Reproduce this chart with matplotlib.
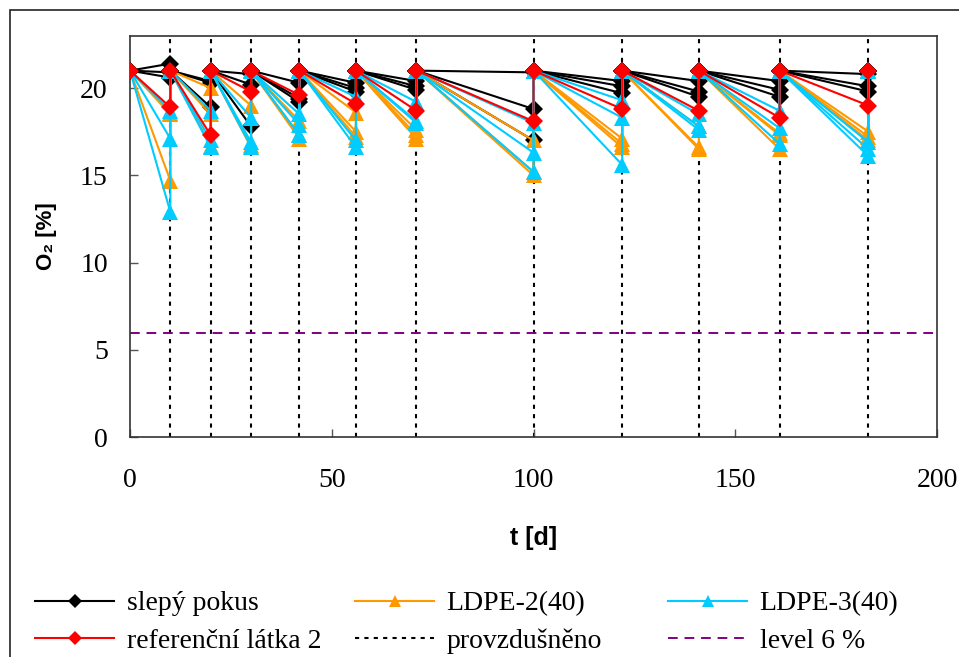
import matplotlib
matplotlib.use("Agg")
import matplotlib.pyplot as plt
from matplotlib.patches import Rectangle

# measurement days (oxygen read, then vessel re-aerated to 21 %)
times = [10, 20, 30, 42, 56, 71, 100, 122, 141, 161, 183]
o2_start = 21.0

blank = [
    [21.4, 20.4, 20.8, 20.3, 20.3, 20.4, 20.9, 20.4, 20.4, 20.4, 20.8],
    [20.6, 20.3, 20.2, 19.4, 20.0, 20.1, 18.8, 20.1, 19.8, 19.9, 20.1],
    [20.9, 18.9, 17.8, 19.2, 19.8, 19.9, 17.0, 19.7, 19.5, 19.5, 19.8],
]
ldpe2 = [
    [18.5, 20.0, 19.0, 18.1, 18.6, 17.6, 17.0, 17.1, 17.8, 17.3, 17.5],
    [14.7, 18.5, 16.75, 17.1, 17.5, 17.1, 15.2, 16.8, 16.5, 16.5, 17.2],
    [18.6, 16.7, 16.6, 17.3, 17.2, 17.3, 15.0, 16.6, 16.6, 17.4, 17.0],
]
ldpe3 = [
    [18.7, 18.7, 18.3, 18.5, 19.5, 19.2, 18.0, 19.3, 18.5, 18.7, 16.9],
    [17.1, 17.0, 16.9, 17.9, 17.0, 18.1, 16.3, 18.3, 17.6, 17.7, 16.5],
    [12.9, 16.6, 16.65, 17.3, 16.6, 18.0, 15.2, 15.6, 17.8, 16.8, 16.1],
]
reference = [
    [18.9, 17.3, 19.8, 19.6, 19.1, 18.7, 18.1, 18.8, 18.7, 18.3, 19.0],
]
level = 6.0

SERIF = ["Liberation Serif", "DejaVu Serif"]
SANS = ["Liberation Sans", "DejaVu Sans"]


def sawtooth(values):
    xs, ys = [0], [o2_start]
    for t, v in zip(times, values):
        xs += [t, t]
        ys += [v, o2_start]
    return xs, ys


fig = plt.figure(figsize=(9.59, 6.57), dpi=100)
ax = fig.add_axes([130 / 959, 1 - 437.3 / 657, 807 / 959, 401.6 / 657])

# outer frame of the original chart object (runs off right/bottom)
fig.patches.append(Rectangle((10 / 959, -0.1), 1.2, 1.1 - 10 / 657, transform=fig.transFigure,
                             fill=False, edgecolor="#222222", linewidth=1.2, clip_on=False))

for t in times:
    ax.axvline(t, color="black", linestyle=(0, (2, 2.5)), linewidth=1.5, zorder=1)
ax.axhline(level, color="#800080", linestyle=(0, (5, 3.5)), linewidth=1.4, zorder=1)

groups = [
    ("slepý pokus", blank, "black", "D", 9),
    ("LDPE-2(40)", ldpe2, "#ff9900", "^", 11),
    ("LDPE-3(40)", ldpe3, "#00ccff", "^", 11),
    ("referenční látka 2", reference, "#ff0000", "D", 9),
]
handles = {}
for name, reps, color, marker, ms in groups:
    for rep in reps:
        xs, ys = sawtooth(rep)
        ln, = ax.plot(xs, ys, color=color, marker=marker, markersize=ms, linewidth=1.5,
                      markeredgewidth=0, zorder=3)
        handles[name] = ln

dot_h, = ax.plot([], [], color="black", linestyle=(0, (2, 2.5)), linewidth=1.5)
lvl_h, = ax.plot([], [], color="#800080", linestyle=(0, (5, 3.5)), linewidth=1.4)

ax.set_xlim(0, 200)
ax.set_ylim(0, 23)
ax.set_xticks([0, 50, 100, 150, 200])
ax.set_yticks([0, 5, 10, 15, 20])
ax.tick_params(direction="in", length=6, width=1, color="#555555", labelsize=20)
ax.tick_params(axis="x", pad=22)
ax.tick_params(axis="y", pad=16)
for lab in ax.get_xticklabels() + ax.get_yticklabels():
    lab.set_family(SERIF)
for s in ax.spines.values():
    s.set_color("#333333")
    s.set_linewidth(1.2)

ax.set_xlabel("t [d]", fontsize=18, fontweight="bold", family=SANS)
ax.set_ylabel("O₂ [%]", fontsize=16, fontweight="bold", family=SANS)
ax.xaxis.set_label_coords(0.5, -0.222)
ax.yaxis.set_label_coords(-0.09, 0.5)

# three legend columns placed like the original
columns = [
    (35, [handles["slepý pokus"], handles["referenční látka 2"]], ["slepý pokus", "referenční látka 2"]),
    (355, [handles["LDPE-2(40)"], dot_h], ["LDPE-2(40)", "provzdušněno"]),
    (668, [handles["LDPE-3(40)"], lvl_h], ["LDPE-3(40)", "level 6 %"]),
]
for x0, hs, labs in columns:
    fig.legend(hs, labs, loc="upper left", bbox_to_anchor=(x0 / 959, 1 - 591 / 657),
               frameon=False, prop={"family": SERIF, "size": 20}, handlelength=2.85,
               handletextpad=0.45, labelspacing=0.42, borderpad=0, borderaxespad=0,
               markerscale=0.75)

fig.savefig("out.png", dpi=100, facecolor="white")
